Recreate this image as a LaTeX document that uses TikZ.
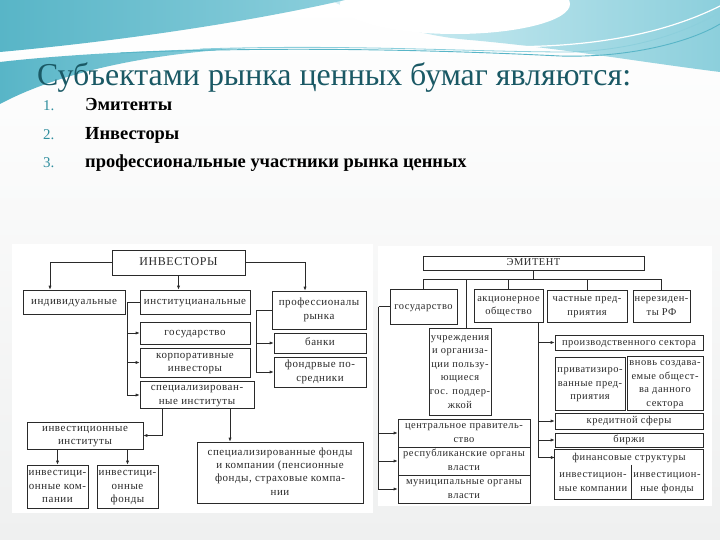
\documentclass[tikz,border=0pt]{standalone}
\usepackage{fontspec}
\setmainfont{Liberation Serif}
\newfontfamily\invfont[LetterSpace=5]{Liberation Serif}
\newfontfamily\emfont[LetterSpace=5]{Liberation Serif}
\usetikzlibrary{arrows.meta,calc}
\definecolor{ink}{HTML}{2A2A2A}
\definecolor{headTeal}{HTML}{1A5965}
\definecolor{numTeal}{HTML}{2F8E9E}
\definecolor{waveDark}{HTML}{58B5C7}
\definecolor{waveMid}{HTML}{8CCFDC}
\definecolor{waveLight}{HTML}{D6F0F5}
\definecolor{slideBg}{HTML}{EFF0F0}
% centred lines with struts, so the text sits in the middle of its box
\newcommand\cellrows[1]{\begin{tabular}{@{}c@{}}#1\end{tabular}}
\tikzset{
  box/.style={draw=ink, line width=0.7bp, fill=white, inner sep=0pt, text=ink, font=\invfont\fontsize{11}{13.4}\selectfont},
  ebox/.style={box, font=\emfont\fontsize{10.5}{13.6}\selectfont},
  lbl/.style={inner sep=0pt, text=ink, font=\emfont\fontsize{10.5}{13.6}\selectfont},
}
\begin{document}
\begin{tikzpicture}[x=1bp, y=-1bp,
  arr/.style={-{Latex[length=4bp,width=3.2bp]}, line width=0.7bp, draw=ink},
  wire/.style={line width=0.7bp, draw=ink}]
\useasboundingbox (0,0) rectangle (720,540);
% slide background and waves
\shade[top color=white, bottom color=slideBg] (0,0) rectangle (720,540);
\shade[left color=waveLight, right color=waveMid] (330,0) -- (720,0) -- (720,72) .. controls (640,62) and (560,48) .. (470,40) .. controls (420,36) and (370,20) .. (330,0) -- cycle;
\fill[white] (455,4) ellipse [x radius=115, y radius=30];
\shade[left color=waveDark, right color=waveMid] (0,0) -- (345,0) .. controls (240,24) and (110,42) .. (0,52) -- cycle;
\shade[left color=waveDark, right color=waveMid] (0,62) .. controls (60,55) and (150,50) .. (250,48) .. controls (150,53) and (60,72) .. (0,104) -- cycle;
\draw[waveDark, line width=0.9bp] (120,53) .. controls (280,46) and (440,50) .. (560,56) .. controls (630,58) and (690,42) .. (720,24);
\draw[waveMid, line width=0.8bp] (200,49) .. controls (350,44) and (470,52) .. (570,52) .. controls (640,50) and (690,30) .. (720,12);
\draw[white, line width=1.2bp] (480,46) .. controls (580,50) and (660,36) .. (720,6);
% heading and list
\node[anchor=base west, inner sep=0pt, text=headTeal, font=\fontsize{32}{32}\selectfont] (head) at (37,86) {Субъектами рынка ценных бумаг являются:};
\foreach \n/\txt/\yy in {1/Эмитенты/111, 2/Инвесторы/140, 3/профессиональные участники рынка ценных/168}{
  \node[anchor=base west, inner sep=0pt, text=numTeal, font=\fontsize{15}{15}\selectfont] (num\n) at (43,\yy) {\n.};
  \node[anchor=base west, inner sep=0pt, font=\bfseries\fontsize{18.5}{18.5}\selectfont] (item\n) at (85,\yy) {\txt};
}
% panels
\fill[white] (12,244) rectangle (373,513);
\fill[white] (378,246) rectangle (712,506);
% investors
\node[box, minimum width=133bp, minimum height=25bp, font=\invfont\fontsize{12}{14}\selectfont] (inv) at (178.5,262.5) {\cellrows{ИНВЕСТОРЫ}};
\node[box, minimum width=102bp, minimum height=24bp] (indiv) at (74,302) {\cellrows{индивидуальные}};
\node[box, minimum width=110bp, minimum height=24bp] (inst) at (195,302) {\cellrows{институцианальные}};
\node[box, minimum width=94bp, minimum height=38bp] (prof) at (319,310) {\cellrows{профессионалы\\рынка}};
\node[box, minimum width=110bp, minimum height=22bp] (gosA) at (195,333) {\cellrows{государство}};
\node[box, minimum width=110bp, minimum height=29bp] (corp) at (195,362.5) {\cellrows{корпоративные\\инвесторы}};
\node[box, minimum width=114bp, minimum height=24bp] (spec) at (197,395) {\cellrows{специализирован-\\ные институты}};
\node[box, minimum width=92bp, minimum height=20bp] (bank) at (320,343) {\cellrows{банки}};
\node[box, minimum width=92bp, minimum height=30bp] (fond) at (320,372) {\cellrows{фондрвые по-\\средники}};
\node[box, minimum width=116bp, minimum height=25bp] (invinst) at (85,435.5) {\cellrows{инвестиционные\\институты}};
\node[box, minimum width=61bp, minimum height=43bp] (invcomp) at (57.5,486.5) {\cellrows{инвестици-\\онные ком-\\пании}};
\node[box, minimum width=61bp, minimum height=43bp] (invfund) at (127.5,486.5) {\cellrows{инвестици-\\онные\\фонды}};
\node[box, minimum width=166bp, minimum height=61bp] (specfund) at (280,472.5) {\cellrows{специализированные фонды\\и компании (пенсионные\\фонды,  страховые компа-\\нии}};
\draw[arr] (inv.west) -| ([xshift=-24bp]indiv.north);
\draw[arr] (inv.south) -- (inv.south |- inst.north);
\draw[arr] (inv.east) -| ([xshift=-14bp]prof.north);
\coordinate (instBar) at ([xshift=-12bp]inst.west);
\draw[wire] (inst.west) -- (instBar);
\draw[arr] (instBar) |- (gosA.west);
\draw[arr] (instBar) |- (corp.west);
\draw[arr] (instBar) |- (spec.west);
\coordinate (profBar) at ([xshift=-15bp]prof.west);
\draw[wire] (prof.west) -- (profBar);
\draw[arr] (profBar) |- (bank.west);
\draw[arr] (profBar) |- (fond.west);
\draw[arr] ([xshift=-35bp]spec.south) |- (invinst.east);
\draw[arr] ([xshift=33bp]spec.south) -- ([xshift=33bp]spec.south |- specfund.north);
\draw[arr] (invinst.south -| invcomp.north) -- (invcomp.north);
\draw[arr] (invinst.south -| invfund.north) -- (invfund.north);
% emitent
\node[ebox, minimum width=221bp, minimum height=14bp] (emit) at (533.5,263) {\cellrows{ЭМИТЕНТ}};
\node[ebox, minimum width=67bp, minimum height=35bp] (gosB) at (423.5,306.5) {\cellrows{государство}};
\node[ebox, minimum width=69bp, minimum height=33bp] (akc) at (508.5,305.5) {\cellrows{акционерное\\общество}};
\node[ebox, minimum width=80bp, minimum height=32bp] (chast) at (587,306) {\cellrows{частные пред-\\приятия}};
\node[ebox, minimum width=57bp, minimum height=32bp] (nerez) at (661.5,306) {\cellrows{нерезиден-\\ты РФ}};
\node[ebox, minimum width=62bp, minimum height=87bp] (uchr) at (460,371.5) {\cellrows{учреждения\\и организа-\\ции пользу-\\ющиеся\\гос. поддер-\\жкой}};
\node[ebox, minimum width=132bp, minimum height=28bp] (cent) at (464,433) {\cellrows{центральное правитель-\\ство}};
\node[ebox, minimum width=132bp, minimum height=28bp] (resp) at (464,461) {\cellrows{республиканские органы\\власти}};
\node[ebox, minimum width=132bp, minimum height=28bp] (mun) at (464,489) {\cellrows{муниципальные органы\\власти}};
\node[ebox, minimum width=148bp, minimum height=15bp] (proizv) at (629,342.5) {\cellrows{производственного сектора}};
\node[ebox, minimum width=70bp, minimum height=53bp] (priv) at (590,383.5) {\cellrows{приватизиро-\\ванные пред-\\приятия}};
\node[ebox, minimum width=76bp, minimum height=53bp] (vnov) at (665,383.5) {\cellrows{вновь создава-\\емые общест-\\ва данного\\сектора}};
\node[ebox, minimum width=148bp, minimum height=16bp] (kred) at (629,421) {\cellrows{кредитной сферы}};
\node[ebox, minimum width=148bp, minimum height=14bp] (birzh) at (629,440) {\cellrows{биржи}};
\node[lbl, minimum width=148bp, minimum height=15bp] (fin) at (629,457.5) {\cellrows{финансовые структуры}};
\node[lbl, minimum width=76bp, minimum height=34bp] (fcomp) at (593,482) {\cellrows{инвестицион-\\ные компании}};
\node[lbl, minimum width=72bp, minimum height=34bp] (ffund) at (667,482) {\cellrows{инвестицион-\\ные фонды}};
\draw[wire] (fin.north west) rectangle (ffund.south east);
\draw[wire] (fcomp.north east) -- (fcomp.south east);
\coordinate (bus) at ([yshift=-9bp]emit.south);
\draw[wire] (emit.south) -- (bus);
\draw[wire] (bus -| gosB.north) -- (bus -| nerez.north);
\draw[wire] (bus -| gosB.north) -- (gosB.north);
\draw[wire] (bus -| akc.north) -- (akc.north);
\draw[wire] (bus -| chast.north) -- (chast.north);
\draw[wire] (bus -| nerez.north) -- (nerez.north);
\draw[wire] ([xshift=6bp]bus -| uchr.north) -- ([xshift=6bp]uchr.north);
\coordinate (gosBar) at ([xshift=-11bp]gosB.west);
\draw[wire] (gosB.west) -- (gosBar);
\draw[arr] (gosBar) |- (cent.west);
\draw[arr] (gosBar) |- (resp.west);
\draw[arr] (gosBar) |- (mun.west);
\coordinate (akcBar) at ([xshift=30bp]akc.south);
\draw[arr] (akcBar) |- (proizv.west);
\draw[arr] (akcBar) |- (kred.west);
\draw[arr] (akcBar) |- (birzh.west);
\draw[arr] (akcBar) |- (fin.west);
\end{tikzpicture}
\end{document}
